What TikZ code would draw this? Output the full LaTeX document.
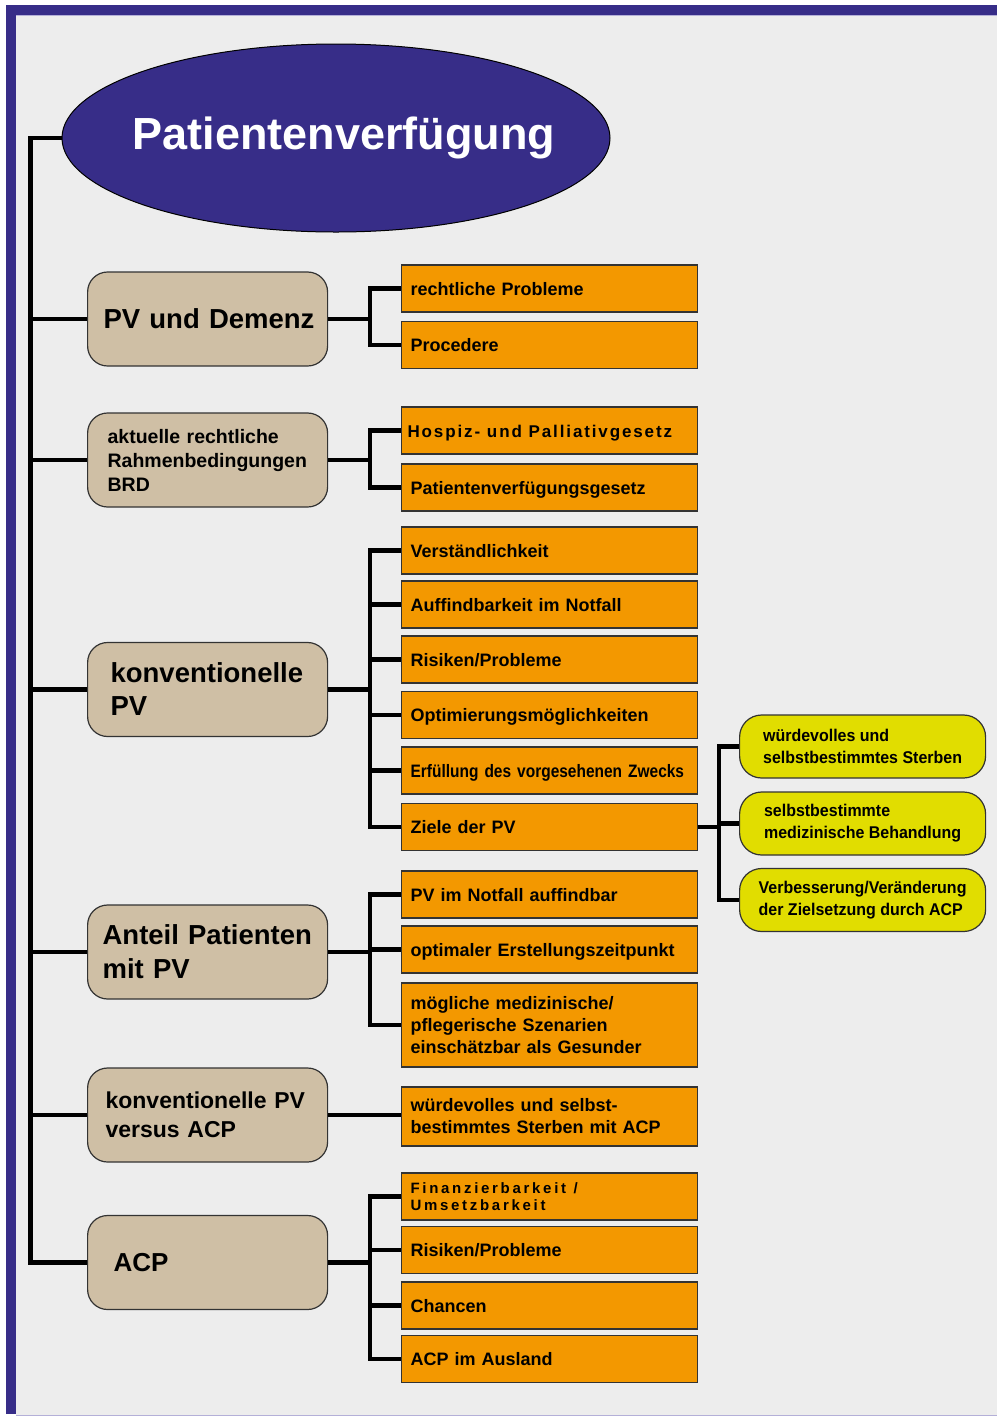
\documentclass[tikz,border=0pt]{standalone}
\usepackage{fontspec}
\setmainfont{Liberation Sans}
\newfontfamily\narrowf[FakeStretch=0.86]{Liberation Sans}
\newfontfamily\narrowy[FakeStretch=0.94]{Liberation Sans}
\newfontfamily\spacedA[LetterSpace=11]{Liberation Sans}
\newfontfamily\spacedB[LetterSpace=18]{Liberation Sans}
\newcommand\widesp[1]{\spaceskip=#1\relax}
\usetikzlibrary{shapes.geometric}
\definecolor{bgc}{HTML}{EDEDED}
\definecolor{blueC}{HTML}{372D88}
\definecolor{lineblue}{HTML}{B4B0D8}
\definecolor{beigeC}{HTML}{CFBFA5}
\definecolor{orangeC}{HTML}{F39800}
\definecolor{yellowC}{HTML}{E1DD00}
\definecolor{borderC}{HTML}{333333}
\begin{document}
\begin{tikzpicture}[x=1pt,y=-1pt,
  conn/.style={line width=4.2pt, black},
  lvl/.style={draw=borderC, line width=1.2pt, fill=beigeC, rounded corners=20pt,
    minimum width=240pt, minimum height=94pt, anchor=west, align=left},
  ob/.style={draw=borderC, line width=1.2pt, fill=orangeC, minimum width=296pt,
    minimum height=47pt, inner xsep=9pt, text width=278pt, align=left, anchor=west,
    font=\fontsize{18}{22}\selectfont\bfseries},
  one/.style={text height=13pt, text depth=0pt},
  yb/.style={draw=borderC, line width=1.2pt, fill=yellowC, rounded corners=22pt,
    minimum width=246pt, minimum height=63pt, anchor=west, align=left,
    font=\narrowy\fontsize{17}{22}\selectfont\bfseries}]
\useasboundingbox (0,0) rectangle (997,1417);
% frame
\fill[white] (0,0) rectangle (997,1417);
\fill[blueC] (6,5) rectangle (997,15);
\fill[blueC] (6,5) rectangle (16,1414);
\fill[bgc] (16,15) rectangle (997,1415);
\draw[lineblue, line width=1pt] (16,15.5) -- (997,15.5);
\draw[lineblue, line width=1.5pt] (16,1415.5) -- (997,1415.5);

% title
\node[ellipse, draw=black, line width=1pt, fill=blueC, minimum width=548pt,
  minimum height=188pt, inner sep=0pt] (title) at (336,138) {};
\node[anchor=base, text=white, font=\fontsize{45}{50}\selectfont\bfseries]
  (ttl) at (344,149) {Patientenverfügung};

% level 1
\node[lvl, inner xsep=16pt, text width=208pt, font=\fontsize{27.5}{33}\selectfont\bfseries]
  (pvd) at (87,319) {\mbox{PV und Demenz}};
\node[lvl, inner xsep=20pt, text width=200pt, font=\fontsize{19.5}{24}\selectfont\bfseries]
  (rahmen) at (87,460) {\mbox{aktuelle rechtliche}\\\mbox{Rahmenbedingungen}\\BRD};
\node[lvl, inner xsep=23pt, text width=194pt, font=\fontsize{27.5}{33}\selectfont\bfseries]
  (konv) at (87,689.5) {\mbox{konventionelle}\\PV};
\node[lvl, inner xsep=15pt, text width=210pt, font=\fontsize{27.5}{34}\selectfont\bfseries]
  (anteil) at (87,952) {\mbox{Anteil Patienten}\\\mbox{mit PV}};
\node[lvl, inner xsep=18pt, text width=204pt, font=\fontsize{23}{29}\selectfont\bfseries]
  (kvacp) at (87,1115) {\mbox{konventionelle PV}\\\mbox{versus ACP}};
\node[lvl, inner xsep=26pt, text width=188pt, font=\fontsize{26}{30}\selectfont\bfseries]
  (acp) at (87,1262.5) {ACP};

% orange boxes
\node[ob, one] (r1) at (401,288.5) {rechtliche Probleme};
\node[ob, one] (r2) at (401,345) {Procedere};
\node[ob, one, inner xsep=6pt, text width=284pt,
  font=\spacedA\fontsize{17}{20}\selectfont\bfseries]
  (r3) at (401,430.5) {\widesp{0.4em}\mbox{Hospiz- und Palliativgesetz}};
\node[ob, one] (r4) at (401,487.5) {Patientenverfügungsgesetz};

\node[ob, one] (k1) at (401,550.5) {Verständlichkeit};
\node[ob, one] (k2) at (401,604.5) {Auffindbarkeit im Notfall};
\node[ob, one] (k3) at (401,659.5) {Risiken/Probleme};
\node[ob, one] (k4) at (401,715) {Optimierungsmöglichkeiten};
\node[ob, one, font=\narrowf\fontsize{18}{22}\selectfont\bfseries]
  (k5) at (401,770.5) {\mbox{Erfüllung des vorgesehenen Zwecks}};
\node[ob, one] (k6) at (401,827) {Ziele der PV};

\node[ob, one] (a1) at (401,894.5) {PV im Notfall auffindbar};
\node[ob, one] (a2) at (401,949.5) {optimaler Erstellungszeitpunkt};
\node[ob, minimum height=84pt] (a3) at (401,1025)
  {mögliche medizinische/\\pflegerische Szenarien\\einschätzbar als Gesunder};

\node[ob, minimum height=59pt] (v1) at (401,1116.5)
  {würdevolles und selbst-\\bestimmtes Sterben mit ACP};

\node[ob, font=\spacedB\fontsize{15}{16.5}\selectfont\bfseries]
  (c1) at (401,1196.5) {\widesp{0.5em}\mbox{Finanzierbarkeit /}\\\mbox{Umsetzbarkeit}};
\node[ob, one] (c2) at (401,1250) {Risiken/Probleme};
\node[ob, one] (c3) at (401,1305.5) {Chancen};
\node[ob, one] (c4) at (401,1359) {ACP im Ausland};

% yellow boxes
\node[yb] (y1) at (739,746.5) {würdevolles und\\selbstbestimmtes Sterben};
\node[yb] (y2) at (739,823.5) {selbstbestimmte\\medizinische Behandlung};
\node[yb] (y3) at (739,900) {Verbesserung/Veränderung\\der Zielsetzung durch ACP};

% trunk connectors
\foreach \n in {pvd,rahmen,konv,anteil,kvacp,acp}
  \draw[conn] (title.west) -- +(-31,0) |- (\n.west);

% brackets
\foreach \c in {r1,r2} \draw[conn] (pvd.east) -- +(42,0) |- (\c.west);
\foreach \c in {r3,r4} \draw[conn] (rahmen.east) -- +(42,0) |- (\c.west);
\foreach \c in {k1,k2,k3,k4,k5,k6} \draw[conn] (konv.east) -- +(42,0) |- (\c.west);
\foreach \c in {a1,a2,a3} \draw[conn] (anteil.east) -- +(42,0) |- (\c.west);
\draw[conn] (kvacp.east) -- (kvacp.east -| v1.west);
\foreach \c in {c1,c2,c3,c4} \draw[conn] (acp.east) -- +(42,0) |- (\c.west);
\foreach \c in {y1,y2,y3} \draw[conn] (k6.east) -- +(21,0) |- (\c.west);
\end{tikzpicture}
\end{document}
